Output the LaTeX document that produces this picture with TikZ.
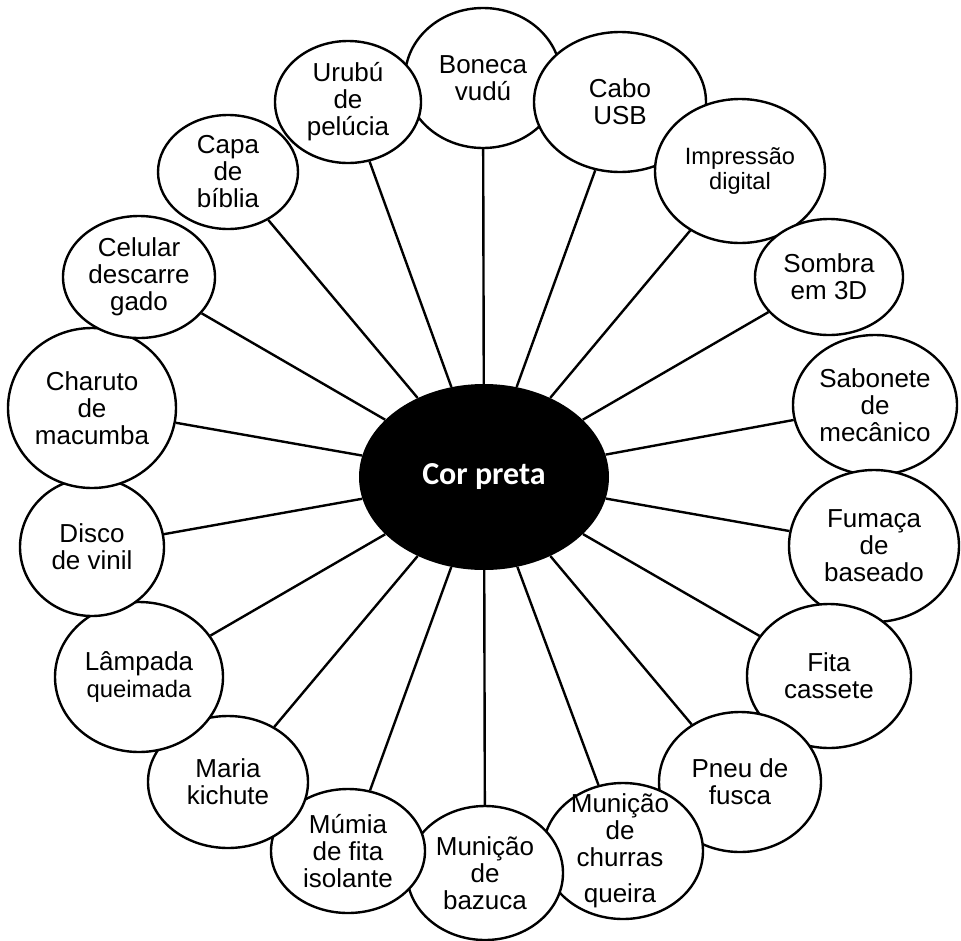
\documentclass[tikz,border=0pt]{standalone}
\usepackage{fontspec}
\setmainfont{Liberation Sans}
\newfontfamily\calibri{Carlito}
\usetikzlibrary{shapes.geometric}
\tikzset{
  bub/.style={ellipse, draw=black, line width=2.4pt, fill=white, inner sep=0pt, align=center,
    font=\fontsize{26}{27}\selectfont},
  spoke/.style={draw=black, line width=2.4pt},
  small/.style={font=\fontsize{23.6}{25}\selectfont},
  txt/.style={anchor=base, inner sep=0pt, font=\fontsize{26}{27}\selectfont}
}
\newcommand{\bb}[5]{\node[bub, minimum width=#3*2pt, minimum height=#4*2pt] (#1) at (#2) {#5};}
\begin{document}
\begin{tikzpicture}[x=1pt,y=-1pt]
\useasboundingbox (0,0) rectangle (961,940);
\node[ellipse, fill=black, minimum width=250pt, minimum height=186pt, inner sep=0pt,
  text=white, font=\calibri\bfseries\fontsize{32}{34}\selectfont] (c) at (484,477) {Cor preta};
\bb{boneca}{483,78}{78}{70}{Boneca\\vudú}
\bb{urubu}{348,102}{73}{61}{Urubú\\de\\pelúcia}
\bb{cabo}{620,102}{86}{70}{Cabo\\USB}
\node[bub, small, minimum width=170pt, minimum height=144pt] (impr) at (740,171) {Impressão\\digital};
\bb{sombra}{829,277}{74}{58}{Sombra\\em 3D}
\bb{sabonete}{875,405}{82}{70}{Sabonete\\de\\mecânico}
\bb{fumaca}{874,546}{85}{76}{Fumaça\\de\\baseado}
\bb{fita}{829,676}{82}{72}{Fita\\cassete}
\bb{pneu}{740,782}{81}{70}{Pneu de\\fusca}
\bb{churras}{623,851}{80}{68}{}
\bb{bazuca}{485,873}{78}{67}{Munição\\de\\bazuca}
\bb{mumia}{348,851}{77}{62}{Múmia\\de fita\\isolante}
\bb{maria}{228,782}{80}{66}{Maria\\kichute}
\bb{lampada}{139,677}{84}{75}{Lâmpada\\{\fontsize{23.8}{25}\selectfont queimada}}
\bb{disco}{92,547}{72}{69}{Disco\\de vinil}
\bb{charuto}{92,408}{84}{80}{Charuto\\de\\macumba}
\bb{celular}{139,277}{76}{61}{Celular\\descarre\\gado}
\bb{capa}{228,172}{70}{57}{Capa\\de\\bíblia}
\node[txt] (ch1) at (620,812) {Munição};
\node[txt] (ch2) at (620,839) {de};
\node[txt] (ch3) at (620,866) {churras};
\node[txt] (ch4) at (620,902) {queira};
\foreach \n in {boneca,urubu,cabo,impr,sombra,sabonete,fumaca,fita,pneu,churras,bazuca,mumia,maria,lampada,disco,charuto,celular,capa}
  \draw[spoke] (c) -- (\n);
\end{tikzpicture}
\end{document}
